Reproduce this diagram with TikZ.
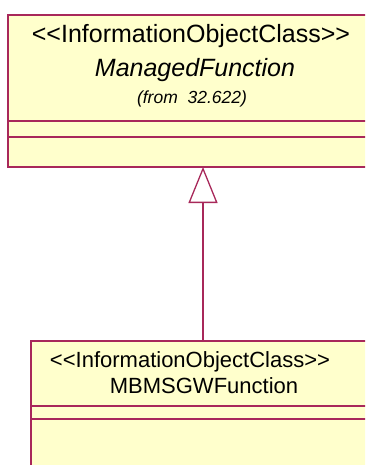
\documentclass[tikz,border=0pt]{standalone}
\usepackage{fontspec}
\newfontfamily\umlfont{Liberation Sans}
\usepackage{xcolor}
\usetikzlibrary{arrows.meta}
\definecolor{umlborder}{HTML}{A8285A}
\definecolor{umlfill}{HTML}{FFFFCC}

\begin{document}
\begin{tikzpicture}[x=1pt,y=-1pt]

\useasboundingbox (0,0) rectangle (365,465);
\clip (0,0) rectangle (365,465);

%% class boxes

\draw[line width=1.6pt, draw=umlborder, fill=umlfill] (8,15) rectangle (380,167);
\draw[line width=1.6pt, umlborder] (8,121) -- (380,121);
\draw[line width=1.6pt, umlborder] (8,137) -- (380,137);

\draw[line width=1.6pt, draw=umlborder, fill=umlfill] (31,341) rectangle (380,480);
\draw[line width=1.6pt, umlborder] (31,406) -- (380,406);
\draw[line width=1.6pt, umlborder] (31,419) -- (380,419);

% nodes

\node[inner sep=0pt, font=\umlfont\fontsize{25}{28}\selectfont] (mfster) at (191,36) {<<InformationObjectClass>>};
\node[inner sep=0pt, font=\umlfont\fontsize{25}{28}\selectfont\itshape] (mfname) at (195,70) {ManagedFunction};
\node[inner sep=0pt, font=\umlfont\fontsize{17.5}{20}\selectfont\itshape] (mffrom) at (192,99) {(from\ \ 32.622)};

\node[inner sep=0pt, font=\umlfont\fontsize{22}{25}\selectfont] (gwster) at (190,362) {<<InformationObjectClass>>};
\node[inner sep=0pt, font=\umlfont\fontsize{22}{25}\selectfont] (gwname) at (204,386) {MBMSGWFunction};

\coordinate (mfbot) at (203,167);
\coordinate (gwtop) at (203,341);

%% generalization
\draw[line width=1.3pt, umlborder, -{Triangle[open, length=36pt, width=29pt, fill=white]}] (gwtop) -- (mfbot);

\end{tikzpicture}
\end{document}
